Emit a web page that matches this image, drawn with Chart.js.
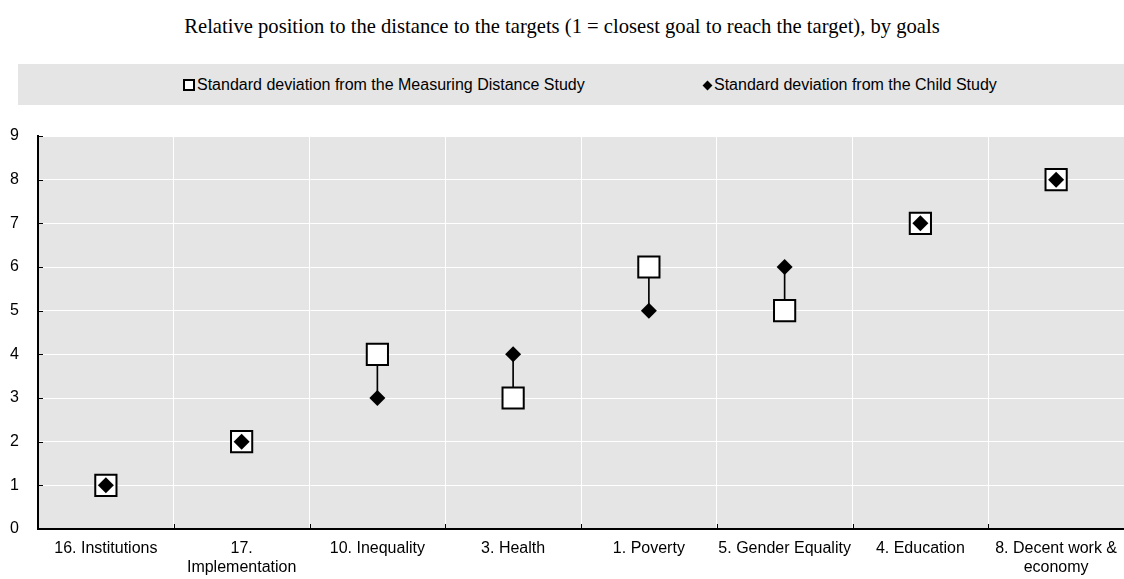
<!DOCTYPE html>
<html>
<head>
<meta charset="utf-8">
<script src="https://cdn.jsdelivr.net/npm/chart.js@4/dist/chart.umd.min.js"></script>
<style>
    body { margin: 0; background: #ffffff; width: 1124px; height: 579px; position: relative; overflow: hidden; }
    #title { position: absolute; left: 0; top: 13px; width: 1124px; text-align: center; font-family: "Liberation Serif", "Times New Roman", serif; font-size: 20.6px; line-height: 26px; color: #000; }
    #legend { position: absolute; left: 18px; top: 64px; width: 1106px; height: 41px; background: #e5e5e5; font-family: "Liberation Sans Narrow", "Arial Narrow", "Liberation Sans", sans-serif; font-size: 16px; color: #000; }
    .item { position: absolute; top: 11px; line-height: 19px; white-space: nowrap; }
    .sq { display: inline-block; width: 8px; height: 8px; border: 2px solid #000; background: #fff; vertical-align: -1px; margin-right: 2px; }
    .dm { display: inline-block; width: 7px; height: 7px; background: #000; transform: rotate(45deg); vertical-align: 1px; margin-right: 3px; }
    #wrap { position: absolute; left: 0; top: 110px; width: 1124px; height: 469px; }
</style>
</head>
<body>
<div id="title">Relative position to the distance to the targets (1 = closest goal to reach the target), by goals</div>
<div id="legend">
    <div class="item" style="left:165px"><span class="sq"></span>Standard deviation from the Measuring Distance Study</div>
    <div class="item" style="left:686px"><span class="dm"></span>Standard deviation from the Child Study</div>
</div>
<div id="wrap"><canvas id="chart" width="1124" height="469"></canvas></div>
<script>
const goals = ['16. Institutions', ['17.', 'Implementation'], '10. Inequality', '3. Health',
    '1. Poverty', '5. Gender Equality', '4. Education', ['8. Decent work &', 'economy']];
const measuringDistance = [1, 2, 4, 3, 6, 5, 7, 8];
const childStudy = [1, 2, 3, 4, 5, 6, 7, 8];
const yTicks = [0, 1, 2, 3, 4, 5, 6, 7, 8, 9];

// connector between the two positions of each goal
const connectors = measuringDistance.map((v, i) => [Math.min(v, childStudy[i]), Math.max(v, childStudy[i])]);

const labelFont = { family: '"Liberation Sans Narrow", "Arial Narrow", "Liberation Sans", sans-serif', size: 16, lineHeight: 1.2 };

const plotBackground = {
    id: 'plotBackground',
    beforeDraw(chart) {
        const { ctx, chartArea } = chart;
        ctx.save();
        ctx.fillStyle = '#e5e5e5';
        ctx.fillRect(chartArea.left, chartArea.top, chartArea.right - chartArea.left, chartArea.bottom - chartArea.top);
        ctx.restore();
    },
    afterDraw(chart) {
        const { ctx, chartArea } = chart;
        const x = chart.scales.x, y = chart.scales.y;
        ctx.save();
        ctx.strokeStyle = '#000';
        ctx.lineWidth = 1;
        ctx.beginPath();
        for (let i = 1; i < goals.length; i++) {
            const px = Math.round(x.getPixelForValue(i - 0.5)) + 0.5;
            ctx.moveTo(px, chartArea.bottom);
            ctx.lineTo(px, chartArea.bottom - 5);
        }
        for (let v = 1; v < yTicks.length; v++) {
            const py = Math.round(y.getPixelForValue(yTicks[v])) + 0.5;
            ctx.moveTo(chartArea.left, py);
            ctx.lineTo(chartArea.left + 5, py);
        }
        ctx.stroke();
        ctx.restore();
    }
};

new Chart(document.getElementById('chart'), {
    type: 'bar',
    data: {
        labels: goals,
        datasets: [
            {
                type: 'bar',
                data: connectors,
                backgroundColor: '#000',
                barThickness: 1,
                order: 3
            },
            {
                type: 'line',
                label: 'Standard deviation from the Measuring Distance Study',
                data: measuringDistance,
                showLine: false,
                pointStyle: 'rect',
                pointRadius: 15,
                pointHoverRadius: 15,
                pointBackgroundColor: '#ffffff',
                pointBorderColor: '#000',
                pointBorderWidth: 2,
                order: 2
            },
            {
                type: 'line',
                label: 'Standard deviation from the Child Study',
                data: childStudy,
                showLine: false,
                pointStyle: 'rectRot',
                pointRadius: 8,
                pointHoverRadius: 8,
                pointBackgroundColor: '#000',
                pointBorderColor: '#000',
                pointBorderWidth: 0,
                order: 1
            }
        ]
    },
    options: {
        responsive: false,
        animation: false,
        layout: { autoPadding: false, padding: { top: 26, right: 0, left: 0, bottom: 0 } },
        plugins: {
            legend: { display: false },
            tooltip: { enabled: false }
        },
        scales: {
            x: {
                offset: true,
                afterFit: (scale) => { scale.height = 50; scale.paddingLeft = 0; scale.paddingRight = 0; },
                grid: { offset: true, color: '#ffffff', lineWidth: 1, drawTicks: false },
                border: { color: '#000', width: 2 },
                ticks: { color: '#000', font: labelFont, padding: 10, maxRotation: 0, autoSkip: false }
            },
            y: {
                min: 0,
                max: 9,
                afterFit: (scale) => { scale.width = 38; scale.paddingTop = 0; scale.paddingBottom = 0; },
                afterBuildTicks: (scale) => { scale.ticks = yTicks.map(v => ({ value: v })); },
                grid: { color: '#ffffff', lineWidth: 1, drawTicks: false },
                border: { color: '#000', width: 2 },
                ticks: { color: '#000', font: labelFont, padding: 19 }
            }
        }
    },
    plugins: [plotBackground]
});
</script>
</body>
</html>
